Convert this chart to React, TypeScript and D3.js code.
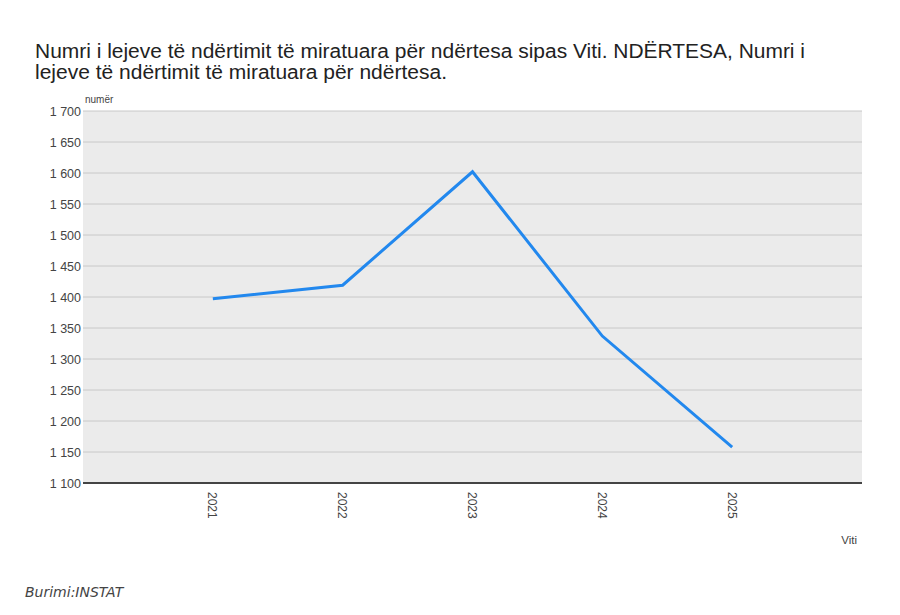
import React from "react";
import * as d3 from "d3";

const years = [2021, 2022, 2023, 2024, 2025];
const values = [1397, 1419, 1602, 1337, 1158];
const yTicks = [1100, 1150, 1200, 1250, 1300, 1350, 1400, 1450, 1500, 1550, 1600, 1650, 1700];
const titleLines = [
  "Numri i lejeve të ndërtimit të miratuara për ndërtesa sipas Viti. NDËRTESA, Numri i",
  "lejeve të ndërtimit të miratuara për ndërtesa.",
];
const titleWidths = [770, 412];

const W = 900, H = 615;
const left = 83, right = 862, top = 111, bottom = 483;

export default function App() {
  const x = d3.scaleLinear().domain([2020, 2026]).range([left, right]);
  const y = d3.scaleLinear().domain([1100, 1700]).range([bottom, top]);
  const fmt = (v: number) => {
    const s = String(v);
    return s.length > 3 ? s.slice(0, s.length - 3) + " " + s.slice(-3) : s;
  };
  const line = d3
    .line<number>()
    .x((_, i) => x(years[i]))
    .y((d) => y(d));
  const font = "Arial, 'Liberation Sans', sans-serif";
  return (
    <svg
      width={W}
      height={H}
      style={{ position: "absolute", left: 0, top: 0, background: "#fff" }}
      fontFamily={font}
    >
      {titleLines.map((t, i) => (
        <text
          key={i}
          x={35}
          y={58 + i * 21}
          fontSize={20}
          fill="#222"
          textLength={titleWidths[i]}
          lengthAdjust="spacingAndGlyphs"
        >
          {t}
        </text>
      ))}
      <rect x={left} y={top} width={right - left} height={bottom - top} fill="#ebebeb" />
      {yTicks.map((t) => (
        <g key={t}>
          {t !== 1100 && (
            <line x1={left} x2={right} y1={y(t)} y2={y(t)} stroke="#c8c8c8" strokeWidth={1} />
          )}
          <text x={81} y={y(t) + 4.5} fontSize={12.5} fill="#444" textAnchor="end">
            {fmt(t)}
          </text>
        </g>
      ))}
      <line x1={left} x2={right} y1={bottom} y2={bottom} stroke="#444" strokeWidth={2} />
      <text x={85} y={103} fontSize={10} fill="#444">
        numër
      </text>
      {years.map((yr) => (
        <text
          key={yr}
          transform={`translate(${x(yr) - 4.5},${492}) rotate(90)`}
          fontSize={12}
          fill="#444"
        >
          {yr}
        </text>
      ))}
      <text x={857} y={544} fontSize={11.5} fill="#444" textAnchor="end">
        Viti
      </text>
      <path d={line(values) || ""} fill="none" stroke="#2288ee" strokeWidth={3} strokeLinejoin="miter" />
      <text x={25} y={597} fontSize={14} fill="#444" fontStyle="italic" fontFamily="Verdana, 'DejaVu Sans', sans-serif">
        Burimi:INSTAT
      </text>
    </svg>
  );
}
